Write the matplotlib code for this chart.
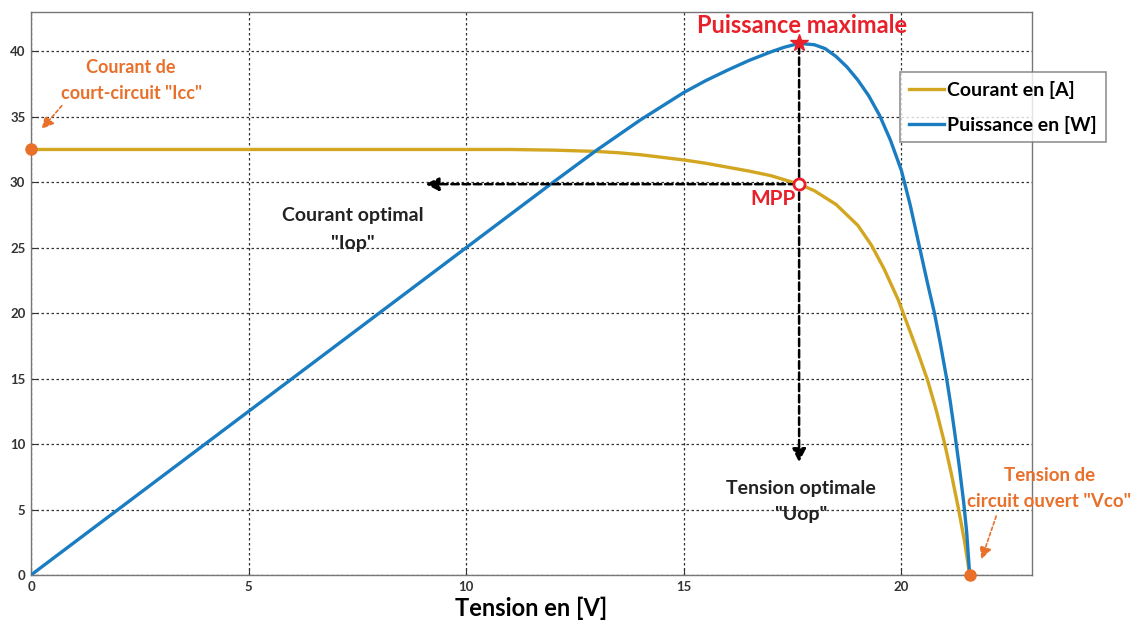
import matplotlib
matplotlib.use("Agg")
import matplotlib.pyplot as plt

# ---- data ----
v_current = [0, 5, 10, 11, 12, 12.5, 13, 13.5, 14, 14.5, 15, 15.5, 16, 16.5, 17, 17.65,
             18, 18.5, 19, 19.31, 19.6, 19.93, 20.2, 20.4, 20.6, 20.8, 20.99, 21.15, 21.31, 21.45, 21.57]
i_current = [32.5, 32.5, 32.5, 32.5, 32.45, 32.4, 32.35, 32.25, 32.1, 31.9, 31.7, 31.45, 31.15, 30.85, 30.5, 29.85,
             29.35, 28.3, 26.7, 25.2, 23.4, 21.0, 18.6, 16.8, 14.9, 12.6, 10.1, 7.7, 5.1, 2.6, 0.0]

v_power = [0, 2, 4, 6, 8, 10, 12, 13, 14, 15, 15.5, 16, 16.5, 17, 17.3, 17.65, 18, 18.25, 18.5, 18.75,
           19, 19.25, 19.5, 19.75, 20, 20.2, 20.4, 20.6, 20.76, 20.9, 21.04, 21.13, 21.22, 21.33, 21.43, 21.5, 21.57]
p_power = [0, 5, 10, 15, 20, 25, 30, 32.45, 34.75, 36.85, 37.75, 38.55, 39.3, 39.95, 40.3, 40.6, 40.5, 40.2, 39.6, 38.8,
           37.8, 36.6, 35.1, 33.2, 30.9, 28.3, 25.3, 22.3, 20.0, 17.6, 15.0, 13.1, 11.0, 8.3, 5.6, 3.3, 0.0]

v_mpp, i_mpp, p_max = 17.65, 29.85, 40.6
i_cc, v_co = 32.5, 21.57

x_ticks = [0, 5, 10, 15, 20]
y_ticks = [0, 5, 10, 15, 20, 25, 30, 35, 40]

legend_labels = ["Courant en [A]", "Puissance en [W]"]

plt.rcParams['font.family'] = ['Lato', 'DejaVu Sans']

c_cur = '#D3A621'
c_pow = '#1B7DC1'
c_org = '#E8702A'
c_red = '#E8202A'

fig = plt.figure(figsize=(11.4, 6.28), dpi=100)
ax = fig.add_axes([0.0272, 0.0844, 0.878, 0.8965])

ax.plot(v_current, i_current, color=c_cur, lw=2.4, label=legend_labels[0], zorder=3,
        solid_joinstyle='round')
ax.plot(v_power, p_power, color=c_pow, lw=2.4, label=legend_labels[1], zorder=3,
        solid_joinstyle='round')

ax.set_xlim(0, 23)
ax.set_ylim(0, 43)
ax.set_xticks(x_ticks)
ax.set_yticks(y_ticks)
ax.grid(True, color='#333333', linestyle=(0, (2, 2)), linewidth=0.9)
ax.tick_params(direction='in', length=5, labelsize=9.5, colors='#333333', pad=4)
for lab in ax.get_xticklabels() + ax.get_yticklabels():
    lab.set_fontweight('bold')
for s in ax.spines.values():
    s.set_color('#777777')
    s.set_linewidth(1.0)

ax.set_xlabel('Tension en [V]', fontsize=17, fontweight='bold', labelpad=3)

# dashed arrows from MPP
ax.annotate('', xy=(9.0, i_mpp), xytext=(v_mpp, i_mpp),
            arrowprops=dict(arrowstyle='-|>', color='black', lw=1.8, linestyle=(0, (3, 1.5)),
                            mutation_scale=20), zorder=4)
ax.annotate('', xy=(v_mpp, 8.4), xytext=(v_mpp, p_max),
            arrowprops=dict(arrowstyle='-|>', color='black', lw=1.8, linestyle=(0, (3, 1.5)),
                            mutation_scale=20), zorder=4)

# markers
ax.plot([0], [i_cc], 'o', color=c_org, ms=8, clip_on=False, zorder=5)
ax.plot([v_co], [0], 'o', color=c_org, ms=8, clip_on=False, zorder=5)
ax.plot([v_mpp], [i_mpp], 'o', mfc='white', mec=c_red, mew=2, ms=8, zorder=6)
ax.plot([v_mpp], [p_max], '*', color=c_red, ms=13, zorder=6)

# orange annotations
ax.annotate('', xy=(0.2, 33.9), xytext=(0.75, 36.0),
            arrowprops=dict(arrowstyle='-|>', color=c_org, lw=1.2, linestyle=(0, (2, 1.5)),
                            mutation_scale=18))
ax.text(2.3, 37.8, 'Courant de\ncourt-circuit "Icc"', color=c_org, fontsize=13,
        fontweight='bold', ha='center', va='center', linespacing=1.65)

ax.annotate('', xy=(21.82, 1.0), xytext=(22.2, 4.7),
            arrowprops=dict(arrowstyle='-|>', color=c_org, lw=1.2, linestyle=(0, (2, 1.5)),
                            mutation_scale=18), annotation_clip=False)
ax.text(23.4, 6.6, 'Tension de\ncircuit ouvert "Vco"', color=c_org, fontsize=13.5,
        fontweight='bold', ha='center', va='center', linespacing=1.6, clip_on=False)

# red labels
ax.text(17.72, 42.0, 'Puissance maximale', color=c_red, fontsize=17, fontweight='bold',
        ha='center', va='center')
ax.text(17.05, 28.7, 'MPP', color=c_red, fontsize=15, fontweight='bold', ha='center', va='center')

# black labels
ax.text(7.4, 26.4, 'Courant optimal\n"Iop"', color='#222222', fontsize=14, fontweight='bold',
        ha='center', va='center', linespacing=1.75)
ax.text(17.7, 5.6, 'Tension optimale\n"Uop"', color='#222222', fontsize=14, fontweight='bold',
        ha='center', va='center', linespacing=1.6)

leg = ax.legend(loc='upper left', bbox_to_anchor=(0.868, 0.893), fontsize=14,
                frameon=True, fancybox=False, edgecolor='#777777', handlelength=1.8,
                handletextpad=0.2, borderaxespad=0, borderpad=0.45, labelspacing=0.85)
leg.get_frame().set_linewidth(1.2)
for t in leg.get_texts():
    t.set_fontweight('bold')

fig.savefig('out.png', dpi=100)
